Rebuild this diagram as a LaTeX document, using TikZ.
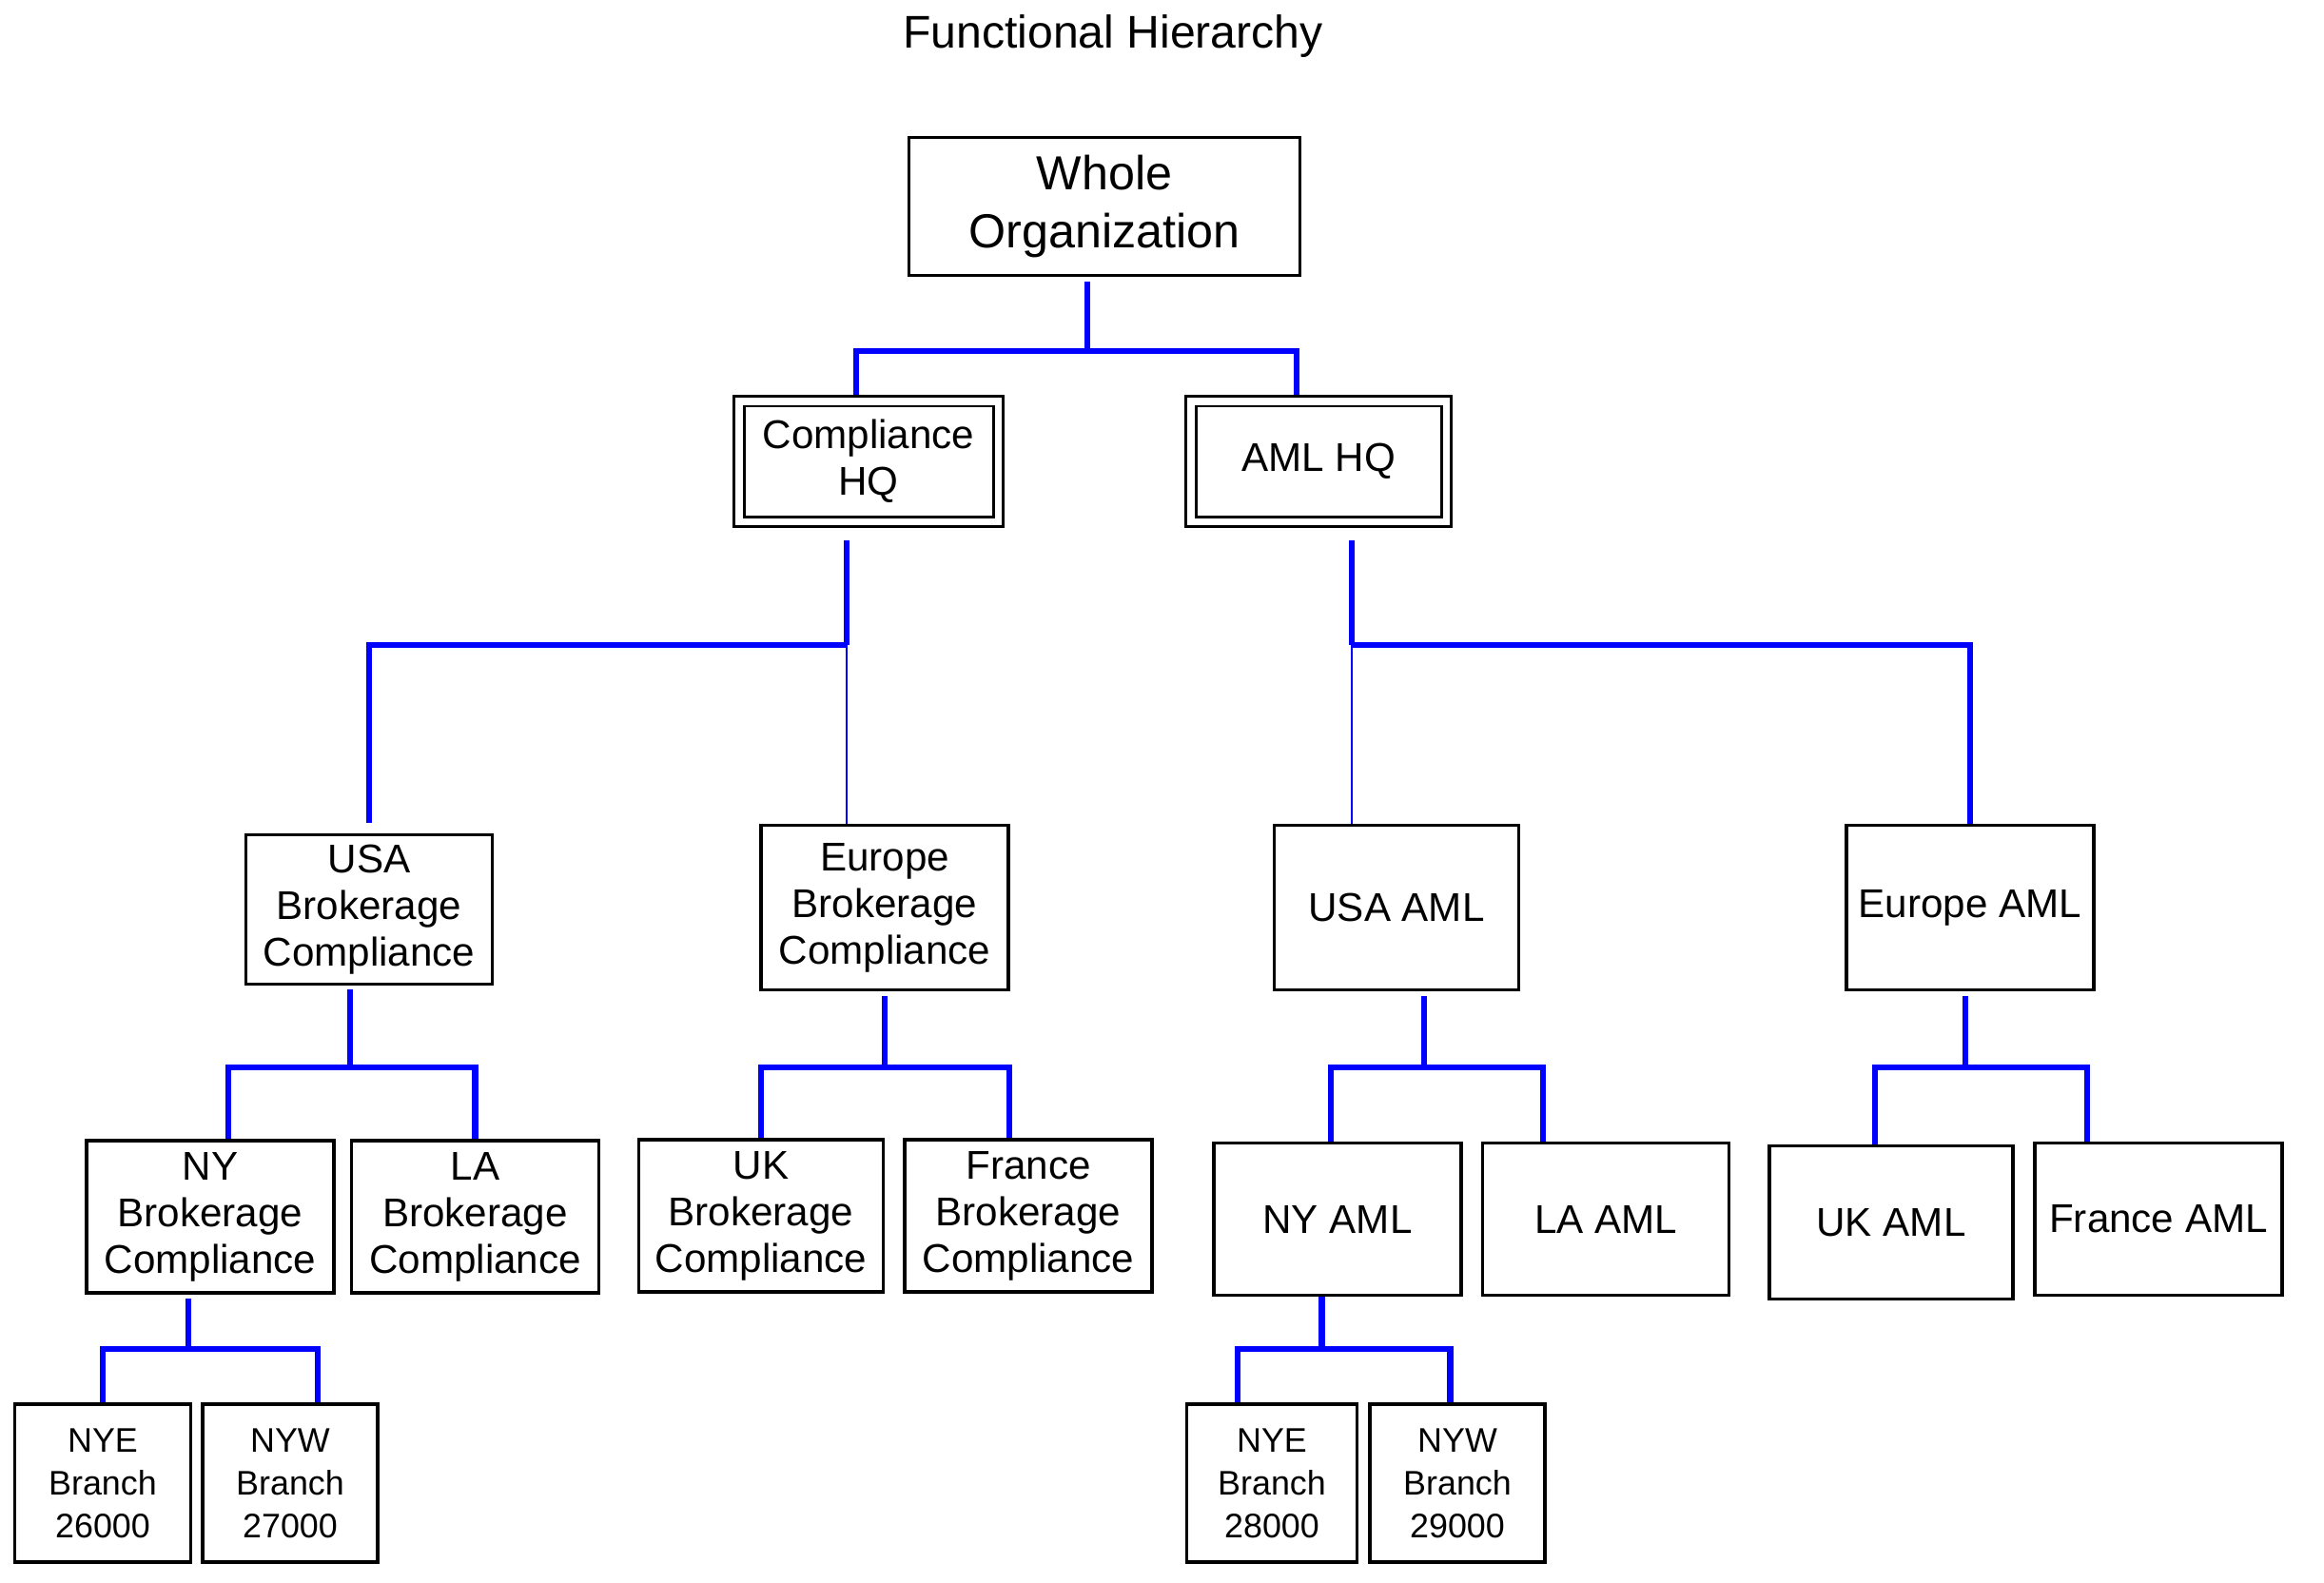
\documentclass[tikz,border=0pt]{standalone}
\usepackage{fontspec}
\setmainfont{Liberation Sans}
\usepackage{tikz}
\usetikzlibrary{positioning,calc}
\definecolor{linkblue}{HTML}{0000FF}

\begin{document}
\begin{tikzpicture}[
  orgbox/.style={draw=black, line width=1pt, align=center, inner sep=0pt,
                 minimum width=26mm, minimum height=16mm,
                 font=\fontsize{12}{13.9}\selectfont},
  topbox/.style={orgbox, font=\fontsize{14.3}{17.4}\selectfont},
  hqbox/.style={orgbox, line width=0.85pt, double, double distance=0.75mm,
                outer sep=0.675mm, minimum width=27.25mm, minimum height=12.65mm},
  branchbox/.style={orgbox, minimum width=18.4mm, minimum height=16.6mm,
                    font=\fontsize{10.2}{12.8}\selectfont},
  link/.style={draw=linkblue, line width=1.8pt},
  thinlink/.style={draw=linkblue, line width=0.5pt}
]
  \useasboundingbox (0,0) rectangle (24.43,-16.63);

  \node[font=\fontsize{13.7}{16}\selectfont] (title) at (11.70,-0.38) {Functional Hierarchy};

  \node[topbox, minimum width=41.1mm, minimum height=14.5mm] (whole) at (11.61,-2.17) {Whole\\Organization};
  \node[hqbox] (comphq) at (9.13,-4.85) {Compliance\\HQ};
  \node[hqbox, minimum width=26.85mm] (amlhq) at (13.86,-4.85) {AML HQ};

  \node[orgbox, minimum width=25.9mm, minimum height=15.7mm] (usabc) at (3.88,-9.56) {USA\\Brokerage\\Compliance};
  \node[orgbox, minimum height=17.3mm] (eurbc) at (9.30,-9.54) {Europe\\Brokerage\\Compliance};
  \node[orgbox, minimum width=25.7mm, minimum height=17.3mm] (usaaml) at (14.68,-9.54) {USA AML};
  \node[orgbox, minimum height=17.3mm] (euraml) at (20.71,-9.54) {Europe AML};

  \node[orgbox] (nybc) at (2.21,-12.79) {NY\\Brokerage\\Compliance};
  \node[orgbox, right=1.5mm of nybc] (labc) {LA\\Brokerage\\Compliance};
  \node[orgbox, minimum width=25.7mm] (ukbc) at (8.00,-12.78) {UK\\Brokerage\\Compliance};
  \node[orgbox, right=1.9mm of ukbc] (frbc) {France\\Brokerage\\Compliance};
  \node[orgbox] (nyaml) at (14.06,-12.815) {NY AML};
  \node[orgbox, minimum width=25.9mm, right=1.9mm of nyaml] (laaml) {LA AML};
  \node[orgbox, minimum width=25.6mm, minimum height=16.1mm] (ukaml) at (19.88,-12.85) {UK AML};
  \node[orgbox] (framl) at (22.69,-12.815) {France AML};

  \node[branchbox, minimum width=18.5mm] (nye26) at (1.08,-15.59) {NYE\\Branch\\26000};
  \node[branchbox, right=0.9mm of nye26] (nyw27) {NYW\\Branch\\27000};
  \node[branchbox, minimum width=17.9mm] (nye28) at (13.37,-15.59) {NYE\\Branch\\28000};
  \node[branchbox, right=1mm of nye28] (nyw29) {NYW\\Branch\\29000};

  \draw[link] ([xshift=-1.8mm,yshift=-0.5mm]whole.south) -- ++(0,-0.73) coordinate (hqbus);
  \draw[link] ([xshift=-1.3mm]comphq.north) |- (hqbus) -| ([xshift=-2.3mm]amlhq.north);

  \draw[link] ([xshift=-2.3mm,yshift=-1.3mm]comphq.south) -- ++(0,-1.1) coordinate (cbus);
  \draw[link] (cbus) -| ([yshift=1.1mm]usabc.north);
  \draw[thinlink] (cbus) -- (cbus |- eurbc.north);

  \draw[link] ([xshift=3.5mm,yshift=-1.3mm]amlhq.south) -- ++(0,-1.1) coordinate (abus);
  \draw[link] (abus) -| (euraml.north);
  \draw[thinlink] (abus) -- (abus |- usaaml.north);

  \draw[link] ([xshift=-2mm,yshift=-0.4mm]usabc.south) -- ++(0,-0.82) coordinate (ubus);
  \draw[link] ([xshift=1.9mm]nybc.north) |- (ubus) -| (labc.north);

  \draw[link] ([yshift=-0.5mm]eurbc.south) -- ++(0,-0.75) coordinate (ebus);
  \draw[link] (ukbc.north) |- (ebus) -| ([xshift=-2mm]frbc.north);

  \draw[link] ([xshift=2.9mm,yshift=-0.5mm]usaaml.south) -- ++(0,-0.75) coordinate (uabus);
  \draw[link] ([xshift=-0.7mm]nyaml.north) |- (uabus) -| ([xshift=-6.6mm]laaml.north);

  \draw[link] ([xshift=-0.5mm,yshift=-0.5mm]euraml.south) -- ++(0,-0.75) coordinate (eabus);
  \draw[link] ([xshift=-1.7mm]ukaml.north) |- (eabus) -| ([xshift=-7.5mm]framl.north);

  \draw[link] ([xshift=-2.3mm,yshift=-0.4mm]nybc.south) -- ++(0,-0.53) coordinate (nbus);
  \draw[link] (nye26.north) |- (nbus) -| ([xshift=2.9mm]nyw27.north);

  \draw[link] ([xshift=-1.65mm]nyaml.south) -- ++(0,-0.55) coordinate (nabus);
  \draw[link] ([xshift=-3.6mm]nye28.north) |- (nabus) -| ([xshift=-0.75mm]nyw29.north);
\end{tikzpicture}
\end{document}
